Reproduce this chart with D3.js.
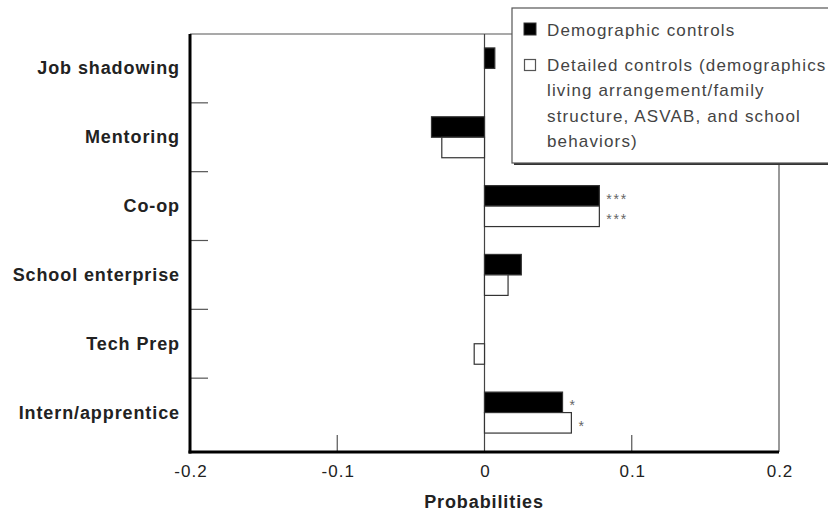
<!DOCTYPE html>
<html>
<head>
<meta charset="utf-8">
<script src="https://cdn.jsdelivr.net/npm/d3@7"></script>
<style>
  html, body { margin: 0; padding: 0; background: #fff; }
  svg { display: block; }
</style>
</head>
<body>
<svg id="chart" width="828" height="512"></svg>
<script>
// Programme categories (top to bottom)
const categories = ["Job shadowing", "Mentoring", "Co-op", "School enterprise", "Tech Prep", "Intern/apprentice"];
// Estimated effects (probabilities) for each specification
const demographicValues = [0.007, -0.036, 0.078, 0.025, 0, 0.053];
const detailedValues = [0, -0.029, 0.078, 0.016, -0.007, 0.059];
// Significance markers
const demographicSig = ["", "", "***", "", "", "*"];
const detailedSig = ["", "", "***", "", "", "*"];
// Axis ticks
const xTicks = [-0.2, -0.1, 0, 0.1, 0.2];
const xTickLabels = ["-0.2", "-0.1", "0", "0.1", "0.2"];
const xTitle = "Probabilities";
// Legend
const legendFirst = "Demographic controls";
const legendSecond = ["Detailed controls (demographics", "living arrangement/family", "structure, ASVAB, and school", "behaviors)"];

const series = [
  { key: "demo", values: demographicValues, sig: demographicSig, fill: "#000" },
  { key: "detail", values: detailedValues, sig: detailedSig, fill: "#fff" }
];

const svg = d3.select("#chart");
const plotLeft = 190, plotRight = 779, plotTop = 34, plotBottom = 452;

const x = d3.scaleLinear().domain([-0.2, 0.2]).range([plotLeft, plotRight]);
const y = d3.scaleBand().domain(categories).range([plotTop, plotBottom - 5]);
const ySub = d3.scaleBand().domain(series.map(s => s.key))
  .range([0, y.bandwidth()]).paddingOuter(0.68);

// Plot frame: thin top and right edges
svg.append("line").attr("x1", plotLeft).attr("x2", plotRight).attr("y1", plotTop).attr("y2", plotTop)
  .attr("stroke", "#555").attr("stroke-width", 1.2);
svg.append("line").attr("x1", plotRight).attr("x2", plotRight).attr("y1", plotTop).attr("y2", plotBottom)
  .attr("stroke", "#555").attr("stroke-width", 1.2);

// Zero reference line
svg.append("line").attr("x1", x(0)).attr("x2", x(0)).attr("y1", plotTop).attr("y2", plotBottom)
  .attr("stroke", "#444").attr("stroke-width", 1.2);

// Category separators on the left axis (pointing inward)
const bounds = categories.slice(1).map(c => y(c));
svg.selectAll("line.ytick").data(bounds).enter().append("line")
  .attr("class", "ytick")
  .attr("x1", plotLeft).attr("x2", plotLeft + 18)
  .attr("y1", d => d).attr("y2", d => d)
  .attr("stroke", "#555").attr("stroke-width", 1.2);

// Bottom axis ticks (inward) at interior values other than zero
svg.selectAll("line.xtick").data(xTicks.filter(t => t !== 0 && Math.abs(t) < 0.2)).enter().append("line")
  .attr("class", "xtick")
  .attr("x1", d => x(d)).attr("x2", d => x(d))
  .attr("y1", plotBottom).attr("y2", plotBottom - 17)
  .attr("stroke", "#555").attr("stroke-width", 1.2);

// Bars
series.forEach(s => {
  const g = svg.append("g");
  const rows = categories.map((c, i) => ({ c, v: s.values[i], sig: s.sig[i] }));
  g.selectAll("rect").data(rows.filter(d => d.v !== 0))
    .enter().append("rect")
    .attr("x", d => Math.min(x(0), x(d.v)))
    .attr("width", d => Math.abs(x(d.v) - x(0)))
    .attr("y", d => y(d.c) + ySub(s.key))
    .attr("height", ySub.bandwidth())
    .attr("fill", s.fill)
    .attr("stroke", "#333").attr("stroke-width", 1.2);
  g.selectAll("text").data(rows.filter(d => d.sig))
    .enter().append("text")
    .attr("x", d => x(d.v) + 7)
    .attr("y", d => y(d.c) + ySub(s.key) + ySub.bandwidth() / 2 + 8)
    .attr("font-family", "Liberation Sans, Arial, sans-serif")
    .attr("font-size", 14)
    .attr("letter-spacing", 1.8)
    .attr("fill", "#666")
    .text(d => d.sig);
});

// Thick left and bottom axis lines
svg.append("line").attr("x1", plotLeft).attr("x2", plotLeft).attr("y1", plotTop).attr("y2", plotBottom + 1.5)
  .attr("stroke", "#000").attr("stroke-width", 3);
svg.append("line").attr("x1", plotLeft - 1.5).attr("x2", plotRight).attr("y1", plotBottom).attr("y2", plotBottom)
  .attr("stroke", "#000").attr("stroke-width", 3);

// Category labels
svg.selectAll("text.cat").data(categories).enter().append("text")
  .attr("class", "cat")
  .attr("x", 180)
  .attr("y", d => y(d) + y.bandwidth() / 2 + 6)
  .attr("text-anchor", "end")
  .attr("font-family", "Liberation Sans, Arial, sans-serif")
  .attr("font-size", 18).attr("font-weight", "bold")
  .attr("letter-spacing", 0.9)
  .attr("fill", "#222")
  .text(d => d);

// X tick labels
svg.selectAll("text.xlab").data(xTicks).enter().append("text")
  .attr("class", "xlab")
  .attr("x", d => x(d) + 1)
  .attr("y", 477)
  .attr("text-anchor", "middle")
  .attr("font-family", "Liberation Sans, Arial, sans-serif")
  .attr("font-size", 17)
  .attr("letter-spacing", 1)
  .attr("fill", "#222")
  .text((d, i) => xTickLabels[i]);

// X axis title
svg.append("text")
  .attr("x", 484).attr("y", 508)
  .attr("text-anchor", "middle")
  .attr("font-family", "Liberation Sans, Arial, sans-serif")
  .attr("font-size", 18).attr("font-weight", "bold")
  .attr("letter-spacing", 0.9)
  .attr("fill", "#222")
  .text(xTitle);

// Legend box with drop shadow
const lg = svg.append("g");
lg.append("rect").attr("x", 514).attr("y", 10).attr("width", 330).attr("height", 155).attr("fill", "#333");
lg.append("rect").attr("x", 512).attr("y", 8).attr("width", 330).attr("height", 155)
  .attr("fill", "#fff").attr("stroke", "#555").attr("stroke-width", 1.2);
lg.append("rect").attr("x", 524).attr("y", 23).attr("width", 12).attr("height", 12)
  .attr("fill", "#000").attr("stroke", "#333");
lg.append("rect").attr("x", 524.5).attr("y", 59.5).attr("width", 11).attr("height", 11)
  .attr("fill", "#fff").attr("stroke", "#555").attr("stroke-width", 1.2);
const legendFont = sel => sel
  .attr("font-family", "Liberation Sans, Arial, sans-serif")
  .attr("font-size", 17)
  .attr("letter-spacing", 1.15)
  .attr("fill", "#444");
lg.append("text").attr("x", 547).attr("y", 36).call(legendFont).text(legendFirst);
lg.selectAll("text.l2").data(legendSecond).enter().append("text")
  .attr("class", "l2")
  .attr("x", 547).attr("y", (d, i) => 71 + i * 25.3)
  .call(legendFont)
  .text(d => d);
</script>
</body>
</html>
